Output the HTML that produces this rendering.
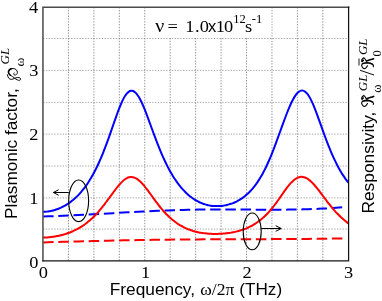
<!DOCTYPE html>
<html><head><meta charset="utf-8"><style>
html,body{margin:0;padding:0;background:#fff;}
svg{display:block;will-change:transform}
text{fill:#000}
.ser{font-family:"Liberation Serif",serif}
.san{font-family:"Liberation Sans",sans-serif}
.it{font-family:"Liberation Serif",serif;font-style:italic}
</style></head><body>
<svg width="382" height="301" viewBox="0 0 382 301">
<rect width="382" height="301" fill="#fff"/>
<g stroke-width="0.6" stroke-dasharray="1.4 1.4" fill="none"><g stroke="#4d4d4d"><line x1="68.44" y1="7.2" x2="68.44" y2="260.9"/><line x1="93.88" y1="7.2" x2="93.88" y2="260.9"/><line x1="119.32" y1="7.2" x2="119.32" y2="260.9"/><line x1="144.76" y1="7.2" x2="144.76" y2="260.9"/><line x1="170.20" y1="7.2" x2="170.20" y2="260.9"/><line x1="195.64" y1="7.2" x2="195.64" y2="260.9"/><line x1="221.08" y1="7.2" x2="221.08" y2="260.9"/><line x1="246.52" y1="7.2" x2="246.52" y2="260.9"/><line x1="271.96" y1="7.2" x2="271.96" y2="260.9"/><line x1="297.40" y1="7.2" x2="297.40" y2="260.9"/><line x1="322.84" y1="7.2" x2="322.84" y2="260.9"/></g><g stroke="#707070"><line x1="43.0" y1="229.10" x2="348.6" y2="229.10"/><line x1="43.0" y1="197.90" x2="348.6" y2="197.90"/><line x1="43.0" y1="166.00" x2="348.6" y2="166.00"/><line x1="43.0" y1="134.10" x2="348.6" y2="134.10"/><line x1="43.0" y1="102.40" x2="348.6" y2="102.40"/><line x1="43.0" y1="70.40" x2="348.6" y2="70.40"/><line x1="43.0" y1="38.50" x2="348.6" y2="38.50"/></g></g>
<rect x="146" y="8" width="125.3" height="29.4" fill="#fff"/>
<g fill="none" stroke-width="2.0" stroke-linecap="butt" stroke-linejoin="round">
<path d="M43.10 216.49C46.43 216.39 49.77 216.28 53.10 216.16C56.43 216.04 59.77 215.91 63.10 215.77C66.43 215.63 69.77 215.48 73.10 215.32C76.43 215.16 79.77 214.99 83.10 214.82C86.43 214.65 89.77 214.47 93.10 214.29C96.43 214.11 99.77 213.93 103.10 213.74C106.43 213.56 109.77 213.37 113.10 213.18C116.43 212.99 119.77 212.80 123.10 212.62C126.43 212.43 129.77 212.25 133.10 212.07C136.43 211.89 139.77 211.71 143.10 211.54C146.43 211.37 149.77 211.21 153.10 211.05C156.43 210.89 159.77 210.75 163.10 210.61C166.43 210.47 169.77 210.34 173.10 210.22C176.43 210.10 179.77 210.00 183.10 209.91C186.43 209.81 189.77 209.73 193.10 209.67C196.43 209.61 199.77 209.56 203.10 209.53C206.43 209.49 209.77 209.47 213.10 209.46C216.43 209.45 219.77 209.45 223.10 209.46C226.43 209.47 229.77 209.48 233.10 209.50C236.43 209.52 239.77 209.54 243.10 209.56C246.43 209.58 249.77 209.61 253.10 209.63C256.43 209.65 259.77 209.67 263.10 209.68C266.43 209.69 269.77 209.70 273.10 209.70C276.43 209.69 279.77 209.68 283.10 209.66C286.43 209.64 289.77 209.60 293.10 209.55C296.43 209.50 299.77 209.44 303.10 209.35C306.43 209.27 309.77 209.17 313.10 209.05C316.43 208.92 319.77 208.78 323.10 208.61C326.43 208.44 329.77 208.25 333.10 208.03C336.40 207.81 339.70 207.56 343.00 207.28" stroke="#0000ff" stroke-dasharray="10.5 4.7"/>
<path d="M43.10 242.38C46.43 242.28 49.77 242.19 53.10 242.10C56.43 242.00 59.77 241.91 63.10 241.82C66.43 241.73 69.77 241.64 73.10 241.55C76.43 241.47 79.77 241.38 83.10 241.30C86.43 241.21 89.77 241.13 93.10 241.05C96.43 240.96 99.77 240.88 103.10 240.81C106.43 240.73 109.77 240.65 113.10 240.58C116.43 240.51 119.77 240.44 123.10 240.37C126.43 240.30 129.77 240.24 133.10 240.17C136.43 240.11 139.77 240.05 143.10 240.00C146.43 239.94 149.77 239.89 153.10 239.84C156.43 239.79 159.77 239.74 163.10 239.70C166.43 239.65 169.77 239.61 173.10 239.58C176.43 239.54 179.77 239.51 183.10 239.48C186.43 239.46 189.77 239.43 193.10 239.41C196.43 239.39 199.77 239.37 203.10 239.35C206.43 239.33 209.77 239.31 213.10 239.30C216.43 239.29 219.77 239.27 223.10 239.26C226.43 239.25 229.77 239.24 233.10 239.23C236.43 239.22 239.77 239.21 243.10 239.20C246.43 239.19 249.77 239.18 253.10 239.17C256.43 239.16 259.77 239.15 263.10 239.14C266.43 239.13 269.77 239.12 273.10 239.10C276.43 239.09 279.77 239.08 283.10 239.06C286.43 239.04 289.77 239.02 293.10 239.00C296.43 238.98 299.77 238.95 303.10 238.92C306.43 238.90 309.77 238.87 313.10 238.83C316.43 238.80 319.77 238.76 323.10 238.72C326.43 238.67 329.77 238.63 333.10 238.58C336.40 238.52 339.70 238.47 343.00 238.41" stroke="#ff0000" stroke-dasharray="10.5 4.7"/>
<path d="M43.00 211.86C43.67 211.86 44.33 211.84 45.00 211.80C45.67 211.76 46.33 211.70 47.00 211.62C47.67 211.55 48.33 211.46 49.00 211.35C49.67 211.25 50.33 211.12 51.00 210.98C51.67 210.84 52.33 210.69 53.00 210.51C53.67 210.34 54.33 210.15 55.00 209.95C55.67 209.74 56.33 209.52 57.00 209.28C57.67 209.04 58.33 208.78 59.00 208.51C59.67 208.24 60.33 207.95 61.00 207.64C61.67 207.33 62.33 207.00 63.00 206.66C63.67 206.31 64.33 205.95 65.00 205.57C65.67 205.19 66.33 204.78 67.00 204.36C67.67 203.94 68.33 203.50 69.00 203.03C69.67 202.57 70.33 202.09 71.00 201.58C71.67 201.07 72.33 200.54 73.00 199.99C73.67 199.44 74.33 198.86 75.00 198.26C75.67 197.65 76.33 197.02 77.00 196.37C77.67 195.72 78.33 195.03 79.00 194.32C79.67 193.61 80.33 192.87 81.00 192.10C81.67 191.34 82.33 190.54 83.00 189.70C83.67 188.87 84.33 188.01 85.00 187.11C85.67 186.21 86.33 185.28 87.00 184.31C87.67 183.34 88.33 182.33 89.00 181.28C89.67 180.24 90.33 179.15 91.00 178.03C91.67 176.90 92.33 175.74 93.00 174.53C93.67 173.32 94.33 172.07 95.00 170.78C95.67 169.48 96.33 168.14 97.00 166.76C97.67 165.38 98.33 163.95 99.00 162.47C99.67 160.99 100.33 159.47 101.00 157.91C101.67 156.34 102.33 154.73 103.00 153.07C103.67 151.42 104.33 149.72 105.00 147.98C105.67 146.24 106.33 144.46 107.00 142.65C107.67 140.84 108.33 138.99 109.00 137.12C109.67 135.24 110.33 133.35 111.00 131.43C111.67 129.52 112.33 127.59 113.00 125.66C113.67 123.74 114.33 121.81 115.00 119.91C115.67 118.00 116.33 116.12 117.00 114.28C117.67 112.44 118.33 110.64 119.00 108.91C119.67 107.19 120.33 105.53 121.00 103.98C121.67 102.42 122.33 100.97 123.00 99.65C123.67 98.32 124.33 97.12 125.00 96.07C125.67 95.01 126.33 94.10 127.00 93.35C127.67 92.60 128.33 92.00 129.00 91.57C129.67 91.14 130.33 90.88 131.00 90.78C131.67 90.68 132.33 90.76 133.00 91.00C133.67 91.23 134.33 91.64 135.00 92.20C135.67 92.76 136.33 93.47 137.00 94.33C137.67 95.19 138.33 96.19 139.00 97.31C139.67 98.44 140.33 99.69 141.00 101.04C141.67 102.40 142.33 103.86 143.00 105.40C143.67 106.94 144.33 108.56 145.00 110.23C145.67 111.91 146.33 113.64 147.00 115.41C147.67 117.17 148.33 118.97 149.00 120.79C149.67 122.60 150.33 124.43 151.00 126.26C151.67 128.08 152.33 129.91 153.00 131.72C153.67 133.54 154.33 135.34 155.00 137.11C155.67 138.89 156.33 140.64 157.00 142.37C157.67 144.09 158.33 145.78 159.00 147.44C159.67 149.09 160.33 150.71 161.00 152.30C161.67 153.88 162.33 155.42 163.00 156.91C163.67 158.41 164.33 159.87 165.00 161.28C165.67 162.69 166.33 164.06 167.00 165.39C167.67 166.72 168.33 168.00 169.00 169.24C169.67 170.48 170.33 171.68 171.00 172.84C171.67 174.00 172.33 175.12 173.00 176.19C173.67 177.27 174.33 178.31 175.00 179.31C175.67 180.31 176.33 181.28 177.00 182.20C177.67 183.13 178.33 184.02 179.00 184.88C179.67 185.74 180.33 186.56 181.00 187.35C181.67 188.14 182.33 188.90 183.00 189.63C183.67 190.36 184.33 191.05 185.00 191.72C185.67 192.39 186.33 193.03 187.00 193.65C187.67 194.26 188.33 194.85 189.00 195.41C189.67 195.96 190.33 196.50 191.00 197.01C191.67 197.52 192.33 198.00 193.00 198.46C193.67 198.92 194.33 199.36 195.00 199.78C195.67 200.19 196.33 200.58 197.00 200.95C197.67 201.32 198.33 201.67 199.00 202.00C199.67 202.33 200.33 202.63 201.00 202.92C201.67 203.20 202.33 203.47 203.00 203.71C203.67 203.96 204.33 204.18 205.00 204.39C205.67 204.59 206.33 204.78 207.00 204.94C207.67 205.11 208.33 205.25 209.00 205.38C209.67 205.51 210.33 205.62 211.00 205.71C211.67 205.81 212.33 205.89 213.00 205.95C213.67 206.01 214.33 206.05 215.00 206.08C215.67 206.11 216.33 206.12 217.00 206.12C217.67 206.12 218.33 206.10 219.00 206.07C219.67 206.03 220.33 205.99 221.00 205.92C221.67 205.86 222.33 205.78 223.00 205.69C223.67 205.59 224.33 205.48 225.00 205.36C225.67 205.23 226.33 205.09 227.00 204.93C227.67 204.78 228.33 204.60 229.00 204.41C229.67 204.22 230.33 204.02 231.00 203.79C231.67 203.57 232.33 203.32 233.00 203.06C233.67 202.80 234.33 202.52 235.00 202.22C235.67 201.93 236.33 201.61 237.00 201.27C237.67 200.93 238.33 200.57 239.00 200.18C239.67 199.80 240.33 199.39 241.00 198.96C241.67 198.53 242.33 198.07 243.00 197.59C243.67 197.10 244.33 196.60 245.00 196.06C245.67 195.52 246.33 194.96 247.00 194.37C247.67 193.77 248.33 193.15 249.00 192.49C249.67 191.84 250.33 191.15 251.00 190.43C251.67 189.71 252.33 188.95 253.00 188.16C253.67 187.36 254.33 186.53 255.00 185.66C255.67 184.79 256.33 183.87 257.00 182.91C257.67 181.95 258.33 180.95 259.00 179.90C259.67 178.85 260.33 177.75 261.00 176.61C261.67 175.47 262.33 174.28 263.00 173.03C263.67 171.79 264.33 170.50 265.00 169.16C265.67 167.82 266.33 166.43 267.00 164.99C267.67 163.55 268.33 162.06 269.00 160.52C269.67 158.99 270.33 157.40 271.00 155.78C271.67 154.15 272.33 152.48 273.00 150.77C273.67 149.06 274.33 147.31 275.00 145.54C275.67 143.77 276.33 141.98 277.00 140.17C277.67 138.35 278.33 136.53 279.00 134.69C279.67 132.85 280.33 131.01 281.00 129.16C281.67 127.32 282.33 125.48 283.00 123.65C283.67 121.83 284.33 120.02 285.00 118.24C285.67 116.46 286.33 114.72 287.00 113.01C287.67 111.31 288.33 109.66 289.00 108.08C289.67 106.49 290.33 104.97 291.00 103.53C291.67 102.10 292.33 100.75 293.00 99.50C293.67 98.26 294.33 97.12 295.00 96.10C295.67 95.08 296.33 94.19 297.00 93.43C297.67 92.67 298.33 92.06 299.00 91.59C299.67 91.12 300.33 90.80 301.00 90.64C301.67 90.48 302.33 90.48 303.00 90.63C303.67 90.79 304.33 91.11 305.00 91.58C305.67 92.06 306.33 92.69 307.00 93.47C307.67 94.25 308.33 95.18 309.00 96.25C309.67 97.32 310.33 98.52 311.00 99.84C311.67 101.16 312.33 102.60 313.00 104.14C313.67 105.68 314.33 107.32 315.00 109.02C315.67 110.73 316.33 112.50 317.00 114.30C317.67 116.11 318.33 117.96 319.00 119.82C319.67 121.68 320.33 123.56 321.00 125.44C321.67 127.31 322.33 129.18 323.00 131.04C323.67 132.89 324.33 134.72 325.00 136.53C325.67 138.33 326.33 140.11 327.00 141.85C327.67 143.59 328.33 145.29 329.00 146.95C329.67 148.61 330.33 150.23 331.00 151.80C331.67 153.37 332.33 154.90 333.00 156.38C333.67 157.86 334.33 159.29 335.00 160.68C335.67 162.06 336.33 163.40 337.00 164.69C337.67 165.99 338.33 167.23 339.00 168.43C339.67 169.63 340.33 170.79 341.00 171.90C341.67 173.02 342.33 174.08 343.00 175.11C343.67 176.14 344.33 177.12 345.00 178.07C345.67 179.02 346.33 179.92 347.00 180.79C347.47 181.40 347.93 181.99 348.40 182.56" stroke="#0000ff"/>
<path d="M43.00 237.53C43.67 237.52 44.33 237.51 45.00 237.48C45.67 237.46 46.33 237.42 47.00 237.38C47.67 237.34 48.33 237.28 49.00 237.22C49.67 237.16 50.33 237.10 51.00 237.02C51.67 236.94 52.33 236.86 53.00 236.76C53.67 236.67 54.33 236.56 55.00 236.45C55.67 236.34 56.33 236.22 57.00 236.09C57.67 235.96 58.33 235.83 59.00 235.68C59.67 235.53 60.33 235.38 61.00 235.21C61.67 235.05 62.33 234.87 63.00 234.69C63.67 234.50 64.33 234.31 65.00 234.11C65.67 233.90 66.33 233.69 67.00 233.46C67.67 233.23 68.33 233.00 69.00 232.75C69.67 232.50 70.33 232.24 71.00 231.97C71.67 231.70 72.33 231.41 73.00 231.12C73.67 230.82 74.33 230.51 75.00 230.19C75.67 229.86 76.33 229.53 77.00 229.18C77.67 228.82 78.33 228.46 79.00 228.08C79.67 227.69 80.33 227.30 81.00 226.88C81.67 226.47 82.33 226.04 83.00 225.59C83.67 225.14 84.33 224.68 85.00 224.19C85.67 223.71 86.33 223.21 87.00 222.69C87.67 222.16 88.33 221.62 89.00 221.06C89.67 220.50 90.33 219.92 91.00 219.31C91.67 218.71 92.33 218.09 93.00 217.44C93.67 216.80 94.33 216.13 95.00 215.44C95.67 214.75 96.33 214.04 97.00 213.31C97.67 212.58 98.33 211.83 99.00 211.05C99.67 210.28 100.33 209.49 101.00 208.68C101.67 207.87 102.33 207.04 103.00 206.19C103.67 205.35 104.33 204.49 105.00 203.62C105.67 202.75 106.33 201.86 107.00 200.97C107.67 200.07 108.33 199.17 109.00 198.26C109.67 197.35 110.33 196.43 111.00 195.52C111.67 194.61 112.33 193.69 113.00 192.79C113.67 191.88 114.33 190.98 115.00 190.10C115.67 189.21 116.33 188.35 117.00 187.50C117.67 186.66 118.33 185.84 119.00 185.06C119.67 184.28 120.33 183.53 121.00 182.83C121.67 182.12 122.33 181.47 123.00 180.87C123.67 180.27 124.33 179.72 125.00 179.25C125.67 178.77 126.33 178.36 127.00 178.03C127.67 177.69 128.33 177.43 129.00 177.25C129.67 177.08 130.33 176.98 131.00 176.96C131.67 176.95 132.33 177.01 133.00 177.16C133.67 177.30 134.33 177.53 135.00 177.82C135.67 178.12 136.33 178.49 137.00 178.93C137.67 179.37 138.33 179.88 139.00 180.44C139.67 181.00 140.33 181.63 141.00 182.30C141.67 182.97 142.33 183.69 143.00 184.44C143.67 185.20 144.33 186.00 145.00 186.82C145.67 187.65 146.33 188.50 147.00 189.37C147.67 190.24 148.33 191.14 149.00 192.04C149.67 192.94 150.33 193.86 151.00 194.78C151.67 195.69 152.33 196.62 153.00 197.54C153.67 198.46 154.33 199.38 155.00 200.29C155.67 201.20 156.33 202.10 157.00 202.98C157.67 203.87 158.33 204.74 159.00 205.60C159.67 206.45 160.33 207.28 161.00 208.10C161.67 208.91 162.33 209.70 163.00 210.47C163.67 211.24 164.33 211.98 165.00 212.71C165.67 213.43 166.33 214.13 167.00 214.80C167.67 215.48 168.33 216.13 169.00 216.75C169.67 217.38 170.33 217.99 171.00 218.57C171.67 219.15 172.33 219.71 173.00 220.25C173.67 220.79 174.33 221.31 175.00 221.80C175.67 222.30 176.33 222.77 177.00 223.23C177.67 223.69 178.33 224.12 179.00 224.54C179.67 224.96 180.33 225.36 181.00 225.74C181.67 226.12 182.33 226.49 183.00 226.84C183.67 227.19 184.33 227.52 185.00 227.83C185.67 228.15 186.33 228.45 187.00 228.74C187.67 229.02 188.33 229.30 189.00 229.55C189.67 229.81 190.33 230.05 191.00 230.28C191.67 230.51 192.33 230.73 193.00 230.93C193.67 231.14 194.33 231.33 195.00 231.51C195.67 231.69 196.33 231.85 197.00 232.01C197.67 232.16 198.33 232.30 199.00 232.43C199.67 232.57 200.33 232.69 201.00 232.80C201.67 232.91 202.33 233.02 203.00 233.11C203.67 233.20 204.33 233.29 205.00 233.36C205.67 233.44 206.33 233.51 207.00 233.57C207.67 233.63 208.33 233.68 209.00 233.72C209.67 233.77 210.33 233.81 211.00 233.84C211.67 233.87 212.33 233.89 213.00 233.90C213.67 233.92 214.33 233.93 215.00 233.93C215.67 233.93 216.33 233.92 217.00 233.91C217.67 233.90 218.33 233.88 219.00 233.86C219.67 233.83 220.33 233.80 221.00 233.76C221.67 233.72 222.33 233.67 223.00 233.62C223.67 233.57 224.33 233.51 225.00 233.44C225.67 233.37 226.33 233.30 227.00 233.22C227.67 233.13 228.33 233.04 229.00 232.95C229.67 232.85 230.33 232.75 231.00 232.63C231.67 232.52 232.33 232.40 233.00 232.27C233.67 232.14 234.33 232.01 235.00 231.86C235.67 231.71 236.33 231.56 237.00 231.39C237.67 231.23 238.33 231.05 239.00 230.87C239.67 230.68 240.33 230.49 241.00 230.28C241.67 230.07 242.33 229.85 243.00 229.62C243.67 229.39 244.33 229.15 245.00 228.89C245.67 228.63 246.33 228.36 247.00 228.07C247.67 227.79 248.33 227.48 249.00 227.17C249.67 226.85 250.33 226.51 251.00 226.16C251.67 225.81 252.33 225.44 253.00 225.06C253.67 224.67 254.33 224.27 255.00 223.84C255.67 223.42 256.33 222.98 257.00 222.52C257.67 222.05 258.33 221.57 259.00 221.07C259.67 220.57 260.33 220.04 261.00 219.49C261.67 218.95 262.33 218.38 263.00 217.78C263.67 217.19 264.33 216.58 265.00 215.94C265.67 215.30 266.33 214.63 267.00 213.94C267.67 213.25 268.33 212.54 269.00 211.80C269.67 211.06 270.33 210.29 271.00 209.50C271.67 208.72 272.33 207.90 273.00 207.07C273.67 206.23 274.33 205.37 275.00 204.49C275.67 203.61 276.33 202.71 277.00 201.79C277.67 200.87 278.33 199.94 279.00 198.99C279.67 198.04 280.33 197.09 281.00 196.12C281.67 195.16 282.33 194.20 283.00 193.24C283.67 192.29 284.33 191.34 285.00 190.41C285.67 189.48 286.33 188.57 287.00 187.69C287.67 186.81 288.33 185.96 289.00 185.16C289.67 184.35 290.33 183.59 291.00 182.88C291.67 182.16 292.33 181.50 293.00 180.89C293.67 180.29 294.33 179.74 295.00 179.27C295.67 178.79 296.33 178.37 297.00 178.03C297.67 177.69 298.33 177.42 299.00 177.23C299.67 177.03 300.33 176.92 301.00 176.87C301.67 176.83 302.33 176.86 303.00 176.97C303.67 177.08 304.33 177.26 305.00 177.52C305.67 177.77 306.33 178.09 307.00 178.48C307.67 178.87 308.33 179.32 309.00 179.83C309.67 180.34 310.33 180.91 311.00 181.53C311.67 182.14 312.33 182.81 313.00 183.51C313.67 184.22 314.33 184.96 315.00 185.74C315.67 186.51 316.33 187.32 317.00 188.14C317.67 188.97 318.33 189.82 319.00 190.68C319.67 191.55 320.33 192.43 321.00 193.31C321.67 194.20 322.33 195.09 323.00 195.98C323.67 196.88 324.33 197.77 325.00 198.66C325.67 199.55 326.33 200.43 327.00 201.30C327.67 202.18 328.33 203.04 329.00 203.89C329.67 204.73 330.33 205.57 331.00 206.38C331.67 207.20 332.33 208.00 333.00 208.78C333.67 209.56 334.33 210.32 335.00 211.07C335.67 211.81 336.33 212.53 337.00 213.24C337.67 213.94 338.33 214.62 339.00 215.29C339.67 215.95 340.33 216.60 341.00 217.22C341.67 217.84 342.33 218.45 343.00 219.04C343.67 219.62 344.33 220.19 345.00 220.74C345.67 221.29 346.33 221.82 347.00 222.33C347.47 222.69 347.93 223.04 348.40 223.39" stroke="#ff0000"/>
</g>
<g fill="none" stroke-linecap="square">
<path d="M42.95 260.85 V7.2 H348.6" stroke="#4a4a4a" stroke-width="1.5"/>
<path d="M42.95 260.85 H348.6 V7.2" stroke="#151515" stroke-width="1.25"/>
</g>
<g fill="none" stroke="#000" stroke-width="1.1">
<ellipse cx="78.65" cy="200.8" rx="9.95" ry="20.8"/>
<ellipse cx="252.2" cy="231.4" rx="9" ry="18.4"/>
<path d="M68.7 192.5 H53.9 M58.7 189.7 L53.3 192.5 L58.7 195.3" stroke-width="1"/>
<path d="M261.2 228.5 H280.8 M275.7 225.7 L281.3 228.5 L275.7 231.3" stroke-width="1"/>
</g>
<text class="ser" font-size="17.5" transform="translate(38.8 278.1) scale(1.05 1)">0</text>
<text class="ser" font-size="17.5" transform="translate(141.0 278.1) scale(1.05 1)">1</text>
<text class="ser" font-size="17.5" transform="translate(242.4 278.1) scale(1.05 1)">2</text>
<text class="ser" font-size="17.5" transform="translate(343.9 278.1) scale(1.05 1)">3</text>
<text class="ser" font-size="17.5" transform="translate(29.2 267.6) scale(1.05 1)">0</text>
<text class="ser" font-size="17.5" transform="translate(29.2 203.85) scale(1.05 1)">1</text>
<text class="ser" font-size="17.5" transform="translate(29.2 140.1) scale(1.05 1)">2</text>
<text class="ser" font-size="17.5" transform="translate(29.2 76.4) scale(1.05 1)">3</text>
<text class="ser" font-size="17.5" transform="translate(28.9 12.6) scale(1.05 1)">4</text>
<text class="san" font-size="16.3" x="109.7" y="295.3" textLength="85.3" lengthAdjust="spacingAndGlyphs">Frequency,</text>
<text class="ser" font-size="17.2" transform="translate(200.3 295.3) scale(1.02 1)">ω/2π</text>
<text class="san" font-size="16.3" x="239.3" y="295.3" textLength="42.8" lengthAdjust="spacingAndGlyphs">(THz)</text>

<text class="san" font-size="16.3" transform="translate(17.3 219.0) rotate(-90)" textLength="130.7" lengthAdjust="spacingAndGlyphs">Plasmonic factor,</text>
<g transform="translate(17.3 80.9) rotate(-90)" fill="none" stroke="#000" stroke-width="0.95" stroke-linecap="round"><path d="M6.2,-9.9 C3.6,-9.6 1.3,-8.0 1.5,-5.8 C1.7,-4.0 3.2,-2.2 3.4,0.4 C3.5,2.2 2.8,3.4 1.9,3.4 C0.9,3.4 0.4,2.4 0.6,1.2 C0.9,-0.6 2.6,-2.4 4.2,-4.6 C5.6,-6.6 6.8,-8.8 8.8,-8.8 C11.2,-8.8 12.5,-6.6 12.4,-4.2 C12.3,-1.6 10.4,0.2 8.4,0.1 C6.6,0 5.6,-1.4 6.0,-2.8 C6.3,-3.8 7.4,-4.0 7.9,-3.2"/><path d="M5.6,-6.9 C6.6,-8.4 7.6,-8.9 8.8,-8.9 C10.6,-8.9 11.8,-7.6 12.2,-5.8" stroke-width="1.5"/></g>
<text class="ser" font-size="13.5" transform="translate(24 66.5) rotate(-90)">ω</text>
<text class="it" font-size="11.9" transform="translate(9.3 64.4) rotate(-90)" textLength="16.6" lengthAdjust="spacingAndGlyphs">GL</text>

<text class="san" font-size="16.3" transform="translate(373.9 213.6) rotate(-90)" textLength="102" lengthAdjust="spacingAndGlyphs">Responsivity,</text>
<g transform="translate(374.3 107.3) rotate(-90)" fill="none" stroke="#000" stroke-linecap="round" stroke-linejoin="round"><path d="M6.0,-11.9 C5.0,-12.9 3.8,-12.9 2.85,-12.2 C1.4,-11.4 0.6,-10.4 0.9,-9.6 C1.3,-8.4 2.6,-7.4 3.8,-6.8 M8.0,-12.3 C9.4,-12.9 11.2,-11.8 11.9,-10.5 C10.9,-9.4 9.6,-8.5 8.5,-8 M5.2,-1.7 C4.4,-0.7 3.6,-0.5 2.8,-1.0" stroke-width="1.1"/><path d="M6.0,-11.7 C6.6,-10 6.9,-8.4 6.9,-6.8 C6.7,-4.6 6.2,-3 5.2,-1.7 M8.6,-7.8 C9.4,-5.5 10.1,-3 10.9,-0.7 M8.4,-12.1 L9.3,-11.0" stroke-width="1.6"/></g>
<text class="ser" font-size="12.5" transform="translate(381.3 92.7) rotate(-90)">ω</text>
<text class="it" font-size="11.9" transform="translate(366.9 91.2) rotate(-90)" textLength="16.6" lengthAdjust="spacingAndGlyphs">GL</text>
<text class="ser" font-size="20.5" transform="translate(373.8 75.6) rotate(-90)">/</text>
<g transform="translate(374.3 69.6) rotate(-90)" fill="none" stroke="#000" stroke-linecap="round" stroke-linejoin="round"><path d="M6.0,-11.9 C5.0,-12.9 3.8,-12.9 2.85,-12.2 C1.4,-11.4 0.6,-10.4 0.9,-9.6 C1.3,-8.4 2.6,-7.4 3.8,-6.8 M8.0,-12.3 C9.4,-12.9 11.2,-11.8 11.9,-10.5 C10.9,-9.4 9.6,-8.5 8.5,-8 M5.2,-1.7 C4.4,-0.7 3.6,-0.5 2.8,-1.0" stroke-width="1.1"/><path d="M6.0,-11.7 C6.6,-10 6.9,-8.4 6.9,-6.8 C6.7,-4.6 6.2,-3 5.2,-1.7 M8.6,-7.8 C9.4,-5.5 10.1,-3 10.9,-0.7 M8.4,-12.1 L9.3,-11.0" stroke-width="1.6"/></g>
<path d="M359 65.5 V58.5" stroke="#000" stroke-width="0.9" fill="none"/>
<text class="ser" font-size="12.5" transform="translate(380.9 56.6) rotate(-90)">0</text>
<text class="it" font-size="11.9" transform="translate(366.9 55.1) rotate(-90)" textLength="16.6" lengthAdjust="spacingAndGlyphs">GL</text>

<text class="ser" font-size="18.5" transform="translate(155.2 32.0) scale(1.08 1)">ν</text>
<text class="ser" font-size="17.5" transform="translate(167.5 32.0) scale(1.05 1)">=</text>
<text class="ser" font-size="17.5" transform="translate(185.2 32.0) scale(1.05 1)">1</text>
<text class="ser" font-size="17.5" transform="translate(195.05 32.0) scale(1.05 1)">.</text>
<text class="ser" font-size="17.5" transform="translate(199.8 32.0) scale(1.05 1)">0</text>
<text class="san" font-size="15.8" transform="translate(208.0 32.0) scale(1.05 1)">x</text>
<text class="ser" font-size="17.5" transform="translate(215.8 32.0) scale(1.05 1)">1</text>
<text class="ser" font-size="17.5" transform="translate(223.9 32.0) scale(1.05 1)">0</text>
<text class="ser" font-size="12" transform="translate(233.3 22.8) scale(1.05 1)">12</text>
<text class="ser" font-size="17.5" transform="translate(245.0 32.0) scale(1.05 1)">s</text>
<text class="ser" font-size="12" transform="translate(251.8 22.8) scale(1.05 1)">-1</text>
</svg>
</body></html>
